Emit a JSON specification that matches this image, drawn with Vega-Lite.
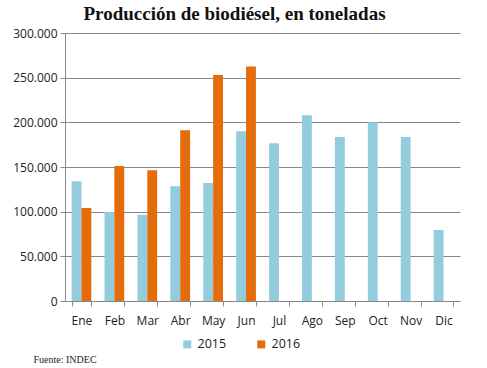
{
  "$schema": "https://vega.github.io/schema/vega-lite/v6.json",
  "autosize": "none",
  "width": 395,
  "height": 268,
  "padding": {"left": 65, "top": 33, "right": 27, "bottom": 67},
  "background": "white",
  "title": {
    "text": "Producción de biodiésel, en toneladas",
    "font": "Liberation Serif",
    "fontSize": 19,
    "fontWeight": "bold",
    "color": "#111",
    "anchor": "middle",
    "dx": -28,
    "offset": 3
  },
  "config": {
    "locale": {"number": {"decimal": ",", "thousands": ".", "grouping": [3], "currency": ["", ""]}},
    "view": {"stroke": null},
    "font": "Open Sans"
  },
  "data": {
    "values": [
      {"mes": "Ene", "anio": "2015", "valor": 134000},
      {"mes": "Feb", "anio": "2015", "valor": 99500},
      {"mes": "Mar", "anio": "2015", "valor": 96500},
      {"mes": "Abr", "anio": "2015", "valor": 128500},
      {"mes": "May", "anio": "2015", "valor": 132000},
      {"mes": "Jun", "anio": "2015", "valor": 190000},
      {"mes": "Jul", "anio": "2015", "valor": 176500},
      {"mes": "Ago", "anio": "2015", "valor": 208000},
      {"mes": "Sep", "anio": "2015", "valor": 183500},
      {"mes": "Oct", "anio": "2015", "valor": 200000},
      {"mes": "Nov", "anio": "2015", "valor": 183500},
      {"mes": "Dic", "anio": "2015", "valor": 79500},
      {"mes": "Ene", "anio": "2016", "valor": 104000},
      {"mes": "Feb", "anio": "2016", "valor": 151000},
      {"mes": "Mar", "anio": "2016", "valor": 146500},
      {"mes": "Abr", "anio": "2016", "valor": 191000},
      {"mes": "May", "anio": "2016", "valor": 253000},
      {"mes": "Jun", "anio": "2016", "valor": 262500}
    ]
  },
  "mark": {"type": "bar"},
  "encoding": {
    "x": {
      "field": "mes",
      "type": "nominal",
      "sort": ["Ene", "Feb", "Mar", "Abr", "May", "Jun", "Jul", "Ago", "Sep", "Oct", "Nov", "Dic"],
      "scale": {"paddingInner": 0.4, "paddingOuter": 0.2},
      "axis": {
        "title": "Fuente: INDEC",
        "titleFont": "Liberation Serif",
        "titleFontWeight": "normal",
        "titleFontSize": 10,
        "titleColor": "#222",
        "titleAnchor": "start",
        "titleAlign": "left",
        "titleX": -32,
        "titleY": 53,
        "labelAngle": 0,
        "labelFontSize": 12,
        "labelColor": "#222",
        "labelPadding": 9,
        "tickBand": "extent",
        "tickSize": 5,
        "tickColor": "#888",
        "domainColor": "#888",
        "grid": false
      }
    },
    "xOffset": {"field": "anio", "type": "nominal", "scale": {"paddingInner": 0, "paddingOuter": 0}},
    "y": {
      "field": "valor",
      "type": "quantitative",
      "scale": {"domain": [0, 300000], "nice": false},
      "axis": {
        "title": null,
        "values": [0, 50000, 100000, 150000, 200000, 250000, 300000],
        "format": ",d",
        "labelFontSize": 12,
        "labelColor": "#222",
        "labelPadding": 3,
        "tickSize": 5,
        "tickColor": "#888",
        "domainColor": "#888",
        "gridColor": "#888",
        "gridOpacity": 1
      }
    },
    "color": {
      "field": "anio",
      "type": "nominal",
      "scale": {"domain": ["2015", "2016"], "range": ["#93CDDD", "#E46C0A"]},
      "legend": {
        "title": null,
        "orient": "none",
        "direction": "horizontal",
        "legendX": 116,
        "legendY": 305,
        "symbolType": "square",
        "symbolSize": 64,
        "symbolStrokeWidth": 0,
        "labelFontSize": 12.5,
        "labelColor": "#222",
        "labelOffset": 4,
        "columnPadding": 28
      }
    }
  }
}
